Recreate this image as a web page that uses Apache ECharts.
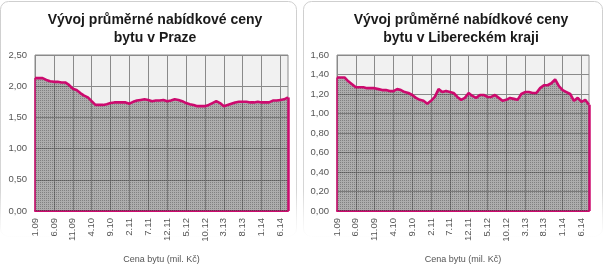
<!DOCTYPE html>
<html><head><meta charset="utf-8">
<script src="https://cdn.jsdelivr.net/npm/echarts@6/dist/echarts.min.js"></script>
<style>html,body{margin:0;padding:0;background:#fff}#c{width:610px;height:273px}</style>
</head><body><div id="c"></div>
<script>
const categories = ["1.09","2.09","3.09","4.09","5.09","6.09","7.09","8.09","9.09","10.09","11.09","12.09",
"1.10","2.10","3.10","4.10","5.10","6.10","7.10","8.10","9.10","10.10","11.10","12.10",
"1.11","2.11","3.11","4.11","5.11","6.11","7.11","8.11","9.11","10.11","11.11","12.11",
"1.12","2.12","3.12","4.12","5.12","6.12","7.12","8.12","9.12","10.12","11.12","12.12",
"1.13","2.13","3.13","4.13","5.13","6.13","7.13","8.13","9.13","10.13","11.13","12.13",
"1.14","2.14","3.14","4.14","5.14","6.14","7.14","8.14"];
const prahaValues = [2.13,2.13,2.13,2.10,2.08,2.07,2.07,2.06,2.06,2.02,1.96,1.94,
1.89,1.85,1.82,1.76,1.70,1.70,1.70,1.71,1.73,1.74,1.74,1.74,
1.74,1.72,1.75,1.77,1.78,1.79,1.78,1.76,1.77,1.77,1.78,1.76,
1.77,1.79,1.78,1.76,1.73,1.71,1.70,1.68,1.68,1.68,1.70,1.73,
1.76,1.73,1.68,1.70,1.72,1.74,1.75,1.75,1.75,1.74,1.74,1.75,
1.74,1.74,1.74,1.77,1.77,1.78,1.79,1.82];
const liberecValues = [1.37,1.37,1.37,1.33,1.30,1.27,1.27,1.27,1.26,1.26,1.26,1.25,
1.24,1.24,1.23,1.23,1.25,1.24,1.22,1.21,1.19,1.16,1.14,1.13,
1.10,1.13,1.17,1.25,1.22,1.23,1.22,1.21,1.17,1.14,1.16,1.21,
1.18,1.16,1.19,1.19,1.17,1.17,1.19,1.16,1.13,1.14,1.16,1.15,
1.14,1.20,1.22,1.22,1.21,1.21,1.26,1.29,1.29,1.31,1.35,1.28,
1.24,1.22,1.20,1.13,1.16,1.12,1.14,1.09];
const titles = ["Vývoj průměrné nabídkové ceny\nbytu v Praze","Vývoj průměrné nabídkové ceny\nbytu v Libereckém kraji"];
const axisName = "Cena bytu (mil. Kč)";
const yMax = [2.5, 1.6];
const yStep = [0.5, 0.2];

const MAG = '#cc0a6e';
const GRID = '#8a8a8a';
const chart = echarts.init(document.getElementById('c'), null, {renderer:'canvas'});

// dotted pattern for the area fill
const pc = document.createElement('canvas'); pc.width = 2; pc.height = 2;
const pctx = pc.getContext('2d');
pctx.fillStyle = 'rgba(105,105,105,0.5)'; pctx.fillRect(0,0,2,2);
pctx.clearRect(0,0,1,1); pctx.fillStyle = 'rgba(60,60,60,0.62)'; pctx.fillRect(0,0,1,1);

const grids = [
  {left:35, width:253, top:55, height:156},
  {left:337, width:252, top:55, height:156}
];
function fadeGrad(){
  return new echarts.graphic.LinearGradient(0,0,0,1,[
    {offset:0,color:'#cfcfcf'},{offset:0.8,color:'#d6d6d6'},{offset:1,color:'rgba(230,230,230,0)'}]);
}

const allVals = [prahaValues, liberecValues];
const option = {
  animation:false,
  backgroundColor:'#fff',
  graphic:[
    {type:'rect', shape:{x:0.5,y:1.5,width:296,height:235,r:8}, style:{fill:'none',stroke:fadeGrad(),lineWidth:1}, z:-10},
    {type:'rect', shape:{x:303.5,y:1.5,width:299,height:235,r:8}, style:{fill:'none',stroke:fadeGrad(),lineWidth:1}, z:-10}
  ],
  title: titles.map((t,i)=>({
    text:t, left: i===0 ? 150 : 456, top:6, textAlign:'center',
    textStyle:{fontFamily:'Liberation Sans',fontWeight:'bold',fontSize:14,color:'#1a1a1a',lineHeight:18}
  })),
  grid: grids.map(g=>Object.assign({show:true, backgroundColor:'#f1f1f1', borderColor:GRID, borderWidth:1},g)),
  xAxis: [0,1].map(i=>({
    type:'category', gridIndex:i, data:categories, boundaryGap:false,
    axisLine:{show:true, lineStyle:{color:MAG,width:2}},
    axisTick:{show:false},
    axisLabel:{interval:4, rotate:90, margin:7, color:'#555', fontFamily:'Liberation Sans', fontSize:9.5},
    splitLine:{show:true, interval:4, lineStyle:{color:GRID,width:1}},
    name:axisName, nameLocation:'middle', nameGap:44,
    nameTextStyle:{color:'#555', fontFamily:'Liberation Sans', fontSize:9}
  })),
  yAxis: [0,1].map(i=>({
    type:'value', gridIndex:i, min:0, max:yMax[i], interval:yStep[i],
    axisLine:{show:false}, axisTick:{show:false},
    axisLabel:{margin:8, color:'#555', fontFamily:'Liberation Sans', fontSize:9.5,
      formatter:v=>v.toFixed(2).replace('.',',')},
    splitLine:{show:true, lineStyle:{color:GRID,width:1}}
  })),
  series: [0,1].map(i=>({
    type:'line', xAxisIndex:i, yAxisIndex:i, data:allVals[i],
    showSymbol:false, symbol:'none',
    lineStyle:{color:MAG, width:2.6},
    areaStyle:{color:{image:pc, repeat:'repeat'}, opacity:1},
    markLine:{
      silent:true, symbol:'none', label:{show:false},
      data:[
        [{coord:[categories[0],0], lineStyle:{color:MAG,width:1.5,type:'solid'}},{coord:[categories[0],allVals[i][0]]}],
        [{coord:[categories[categories.length-1],0], lineStyle:{color:MAG,width:2.5,type:'solid'}},{coord:[categories[categories.length-1],allVals[i][allVals[i].length-1]]}]
      ]
    }
  }))
};
chart.setOption(option);
</script></body></html>
